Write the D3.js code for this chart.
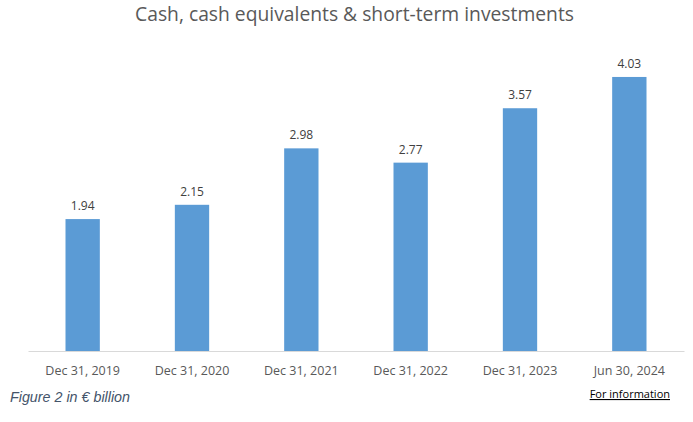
<!DOCTYPE html>
<html><head><meta charset="utf-8">
<script src="https://cdn.jsdelivr.net/npm/d3@7"></script>
<style>body{margin:0;background:#fff}svg{display:block}</style>
</head><body><svg id="c" width="693" height="422"></svg>
<script>
const categories = ["Dec 31, 2019","Dec 31, 2020","Dec 31, 2021","Dec 31, 2022","Dec 31, 2023","Jun 30, 2024"];
const values = [1.94, 2.15, 2.98, 2.77, 3.57, 4.03];
const valueLabels = ["1.94","2.15","2.98","2.77","3.57","4.03"];
const title = "Cash, cash equivalents & short-term investments";

const svg = d3.select("#c");
const x = d3.scaleBand().domain(categories).range([28, 684]).paddingInner(0.686).paddingOuter(0.343);
const y = d3.scaleLinear().domain([0, 4.5]).range([351, 45]);
const font = "'Open Sans', sans-serif";

svg.append("text").attr("x", 354.5).attr("y", 21).attr("text-anchor","middle")
  .attr("font-family", font).attr("font-size", 19.3).attr("fill","#595959").text(title);

svg.selectAll("rect.bar").data(values).join("rect").attr("class","bar")
  .attr("x",(d,i)=>x(categories[i])).attr("width",x.bandwidth())
  .attr("y",d=>y(d)).attr("height",d=>y(0)-y(d)).attr("fill","#5b9bd5");

svg.selectAll("text.val").data(values).join("text").attr("class","val")
  .attr("x",(d,i)=>x(categories[i])+x.bandwidth()/2).attr("y",d=>y(d)-9)
  .attr("text-anchor","middle").attr("font-family",font).attr("font-size",12)
  .attr("fill","#404040").text((d,i)=>valueLabels[i]);

const ax = svg.append("g").attr("transform","translate(0,351)")
  .call(d3.axisBottom(x).tickSize(0).tickPadding(15));
ax.select(".domain").attr("stroke","#d9d9d9");
ax.selectAll("text").attr("font-family",font).attr("font-size",12.5).attr("fill","#595959");

svg.append("text").attr("x",10).attr("y",402).attr("font-family","'Liberation Sans', Arial, sans-serif")
  .attr("font-style","italic").attr("font-size",14.3).attr("fill","#44546a").text("Figure 2 in € billion");
svg.append("text").attr("x",670).attr("y",398).attr("text-anchor","end").attr("font-family",font)
  .attr("font-size",11).attr("fill","#000").attr("text-decoration","underline").text("For information");
</script></body></html>
